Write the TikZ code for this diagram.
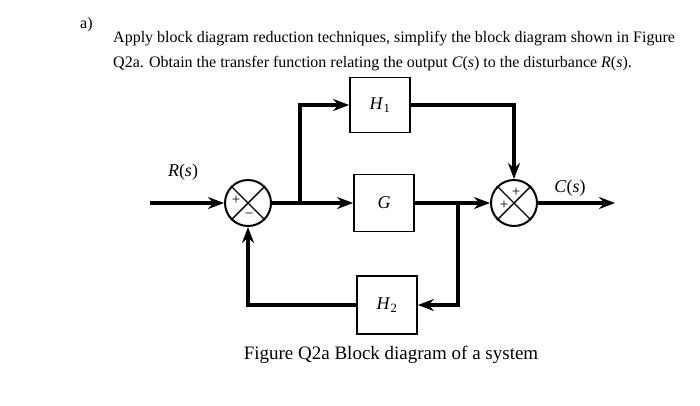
\documentclass[tikz,border=0pt]{standalone}
\usepackage{fontspec}
\setmainfont{Liberation Serif}
\usetikzlibrary{arrows.meta}
\begin{document}
\begin{tikzpicture}[x=1pt,y=-1pt,
 blk/.style={draw,line width=1.8pt,minimum width=60pt,minimum height=55pt,inner sep=0pt,font=\fontsize{18}{20}\selectfont},
 sumj/.style={draw,circle,line width=2pt,minimum size=46pt,inner sep=0pt},
 sig/.style={line width=3.4pt,-{Stealth[length=16pt,width=12pt]}},
 txt/.style={font=\fontsize{16}{19}\selectfont,inner sep=0pt},
 lbl/.style={font=\fontsize{18}{20}\selectfont,inner sep=0pt},
 sgn/.style={font=\fontsize{15}{16}\selectfont,inner sep=0pt}]
\useasboundingbox (0,0) rectangle (700,405);
% header
\node[txt,anchor=base west] (qa) at (80,28) {a)};
\node[txt,anchor=base west] (l1) at (113,42) {Apply block diagram reduction techniques, simplify the block diagram shown in Figure};
\node[txt,anchor=base west] (l2) at (113,67) {Q2a. Obtain the transfer function relating the output \textit{C}(\textit{s}) to the disturbance \textit{R}(\textit{s}).};
% blocks
\node[blk] (H1) at (380,105) {\textit{H}\textsubscript{1}};
\node[blk,minimum height=57pt] (G) at (384,203) {\textit{G}};
\node[blk,minimum height=58pt] (H2) at (387,305) {\textit{H}\textsubscript{2}};
% summing junctions
\node[sumj] (s1) at (248,203) {};
\draw[line width=1.4pt] (s1.45) -- (s1.225) (s1.135) -- (s1.315);
\node[sgn] (s1p) at (236,200) {+};
\node[sgn] (s1m) at (249,216) {\textminus};
\node[sumj] (s2) at (514,203) {};
\draw[line width=1.4pt] (s2.45) -- (s2.225) (s2.135) -- (s2.315);
\node[sgn] (s2p1) at (516,192) {+};
\node[sgn] (s2p2) at (504,205) {+};
% coordinates
\coordinate (Rin) at (150,203);
\coordinate (b1) at (300,203);
\coordinate (b2) at (458,203);
\coordinate (Cout) at (615,203);
% connectors
\draw[sig] (Rin) -- (s1.west);
\draw[sig] (s1.east) -- (G.west);
\draw[sig] (b1) |- (H1.west);
\draw[sig] (H1.east) -| (s2.north);
\draw[sig] (G.east) -- (s2.west);
\draw[sig] (b2) |- (H2.east);
\draw[sig] (H2.west) -| (s1.south);
\draw[sig] (s2.east) -- (Cout);
% labels
\node[lbl] (Rl) at (183,172) {\textit{R}(\textit{s})};
\node[lbl] (Cl) at (570,188) {\textit{C}(\textit{s})};
\node[font=\fontsize{19}{21}\selectfont,inner sep=0pt] (cap) at (391,355) {Figure Q2a Block diagram of a system};
\end{tikzpicture}
\end{document}
